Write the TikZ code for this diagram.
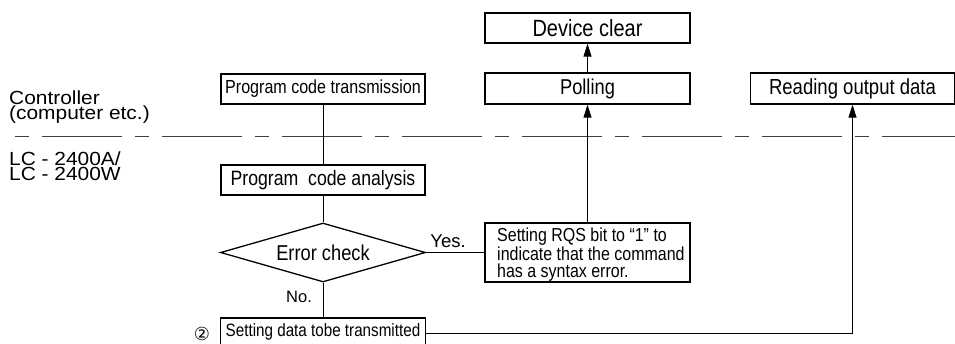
\documentclass[tikz,border=0pt]{standalone}
\usepackage{fontspec}
\setmainfont{Liberation Sans}
\newfontfamily\boxf{Liberation Sans}[FakeStretch=0.85]
\newfontfamily\labf{Liberation Sans}[FakeStretch=1.1]
\newfontfamily\symf{DejaVu Sans}
\usetikzlibrary{arrows.meta,shapes.geometric}
\newcommand{\fsz}[1]{\fontsize{#1}{#1}\selectfont}
\newcommand{\fszb}[2]{\fontsize{#1}{#2}\selectfont}
\tikzset{
  boxnode/.style={draw=black, line width=1.3pt, rectangle, inner sep=0pt, minimum width=204pt, font=\boxf},
  conn/.style={draw=black, line width=0.9pt},
  arr/.style={conn, -{Triangle[length=13pt,width=8pt]}},
  dashline/.style={draw=black!75, line width=1pt, dash pattern=on 14pt off 13pt on 80pt off 13pt},
  sidelab/.style={anchor=north west, align=left, inner sep=0pt, font=\labf\fszb{19}{15}},
  edgelab/.style={inner sep=0pt, font=\fsz{18.5}},
}
\begin{document}
\begin{tikzpicture}[x=1pt,y=-1pt]
\clip (0,0) rectangle (955,343);
\useasboundingbox (0,0) rectangle (955,343);

% dashed boundary line
\coordinate (dlA) at (15,136);
\coordinate (dlB) at (955,136);
\draw[dashline] (dlA) -- (dlB);

% side labels
\node[sidelab] (ctl) at (9,90.2) {Controller\\(computer etc.)};
\node[sidelab] (lc) at (9,151.2) {LC - 2400A/\\LC - 2400W};

% boxes
\node[boxnode, minimum width=205pt, minimum height=30pt, font=\boxf\fsz{23.5}] (dev) at (587.5,28) {Device clear};
\node[boxnode, minimum width=205pt, minimum height=31pt, font=\boxf\fsz{21.5}] (poll) at (587.5,88.5) {Polling};
\node[boxnode, minimum height=30pt, font=\boxf\fsz{18.9}] (pct) at (323,89) {Program code transmission};
\node[boxnode, minimum height=31pt, font=\boxf\fsz{21.8}] (rod) at (852.5,88.5) {Reading output data};
\node[boxnode, minimum height=30pt, font=\boxf\fsz{20.8}] (pca) at (323,180) {Program\ \ code analysis};
\node[draw=black, line width=1.3pt, diamond, aspect=3.47, inner sep=0pt, minimum width=205pt, minimum height=59pt, font=\boxf\fsz{21.5}] (err) at (323,252.5) {Error check};
\node[boxnode, minimum width=205pt, minimum height=59pt] (rqs) at (587.5,252.5) {};
\node[anchor=north west, align=left, inner sep=0pt, font=\boxf\fszb{18.8}{16.7}] (rqstext) at (497,228) {Setting RQS bit to “1” to\\indicate that the command\\has a syntax error.};
\node[boxnode, minimum width=205pt, minimum height=27pt, font=\boxf\fsz{17.9}] (bot) at (323,331.5) {Setting data tobe transmitted};
\node[inner sep=0pt, font=\symf\fsz{18}] (num) at (202,333.5) {②};

% connectors
\draw[conn] (pct.south) -- (pca.north);
\draw[conn] (pca.south) -- (err.north);
\draw[conn] (err.south) -- (bot.north);
\draw[conn] (err.east) -- (rqs.west);
\node[edgelab] (yes) at (448,241.5) {Yes.};
\node[edgelab, font=\fsz{16.5}] (no) at (299,296.5) {No.};
\draw[arr] (rqs.north) -- (poll.south);
\draw[arr] (poll.north) -- (dev.south);
\coordinate (corner) at (852.5,333);
\draw[arr] (bot.east |- corner) -- (corner) -- (rod.south);
\end{tikzpicture}
\end{document}
